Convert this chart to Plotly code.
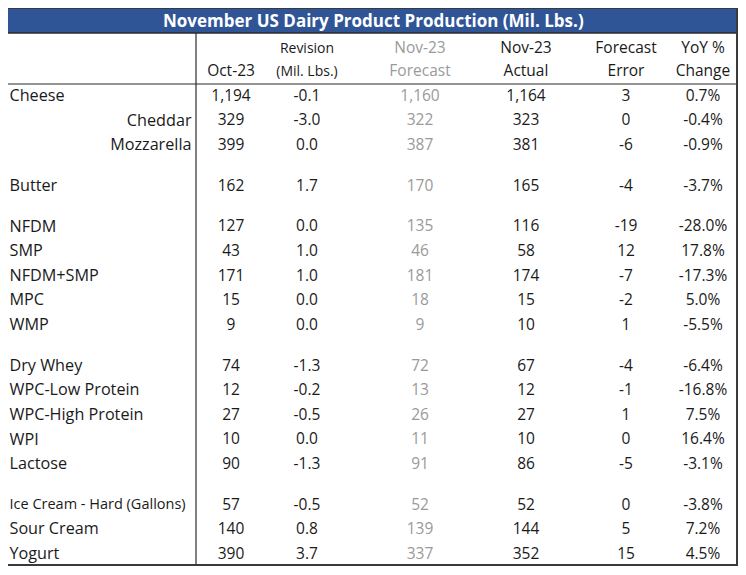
import plotly.graph_objects as go

# ---------------- data ----------------
title = "November US Dairy Product Production (Mil. Lbs.)"
products = ["Cheese", "Cheddar", "Mozzarella", "Butter", "NFDM", "SMP", "NFDM+SMP", "MPC", "WMP",
            "Dry Whey", "WPC-Low Protein", "WPC-High Protein", "WPI", "Lactose",
            "Ice Cream - Hard (Gallons)", "Sour Cream", "Yogurt"]
groups = [1, 1, 1, 2, 3, 3, 3, 3, 3, 4, 4, 4, 4, 4, 5, 5, 5]
indented = ["Cheddar", "Mozzarella"]
oct23 = [1194, 329, 399, 162, 127, 43, 171, 15, 9, 74, 12, 27, 10, 90, 57, 140, 390]
revision = [-0.1, -3.0, 0.0, 1.7, 0.0, 1.0, 1.0, 0.0, 0.0, -1.3, -0.2, -0.5, 0.0, -1.3, -0.5, 0.8, 3.7]
nov_forecast = [1160, 322, 387, 170, 135, 46, 181, 18, 9, 72, 13, 26, 11, 91, 52, 139, 337]
nov_actual = [1164, 323, 381, 165, 116, 58, 174, 15, 10, 67, 12, 27, 10, 86, 52, 144, 352]
forecast_error = [3, 0, -6, -4, -19, 12, -7, -2, 1, -4, -1, 1, 0, -5, 0, 5, 15]
yoy_change = [0.7, -0.4, -0.9, -3.7, -28.0, 17.8, -17.3, 5.0, -5.5, -6.4, -16.8, 7.5, 16.4, -3.1, -3.8, 7.2, 4.5]
header_top = ["", "Revision", "Nov-23", "Nov-23", "Forecast", "YoY %"]
header_bottom = ["Oct-23", "(Mil. Lbs.)", "Forecast", "Actual", "Error", "Change"]

# ---------------- layout constants ----------------
W, H = 746, 575
OFF = 8  # page body margin
FONT = "Open Sans, Carlito, Calibri, sans-serif"
DARK = "#1a1a1a"
GRAY = "#9a9a9a"
BLUE = "#2f5597"
col_x = [231, 307, 420, 526, 626, 703]
col_colors = [DARK, DARK, GRAY, DARK, DARK, DARK]
first_y, step, gap = 97, 24.6, 16.1
fs_label = 16.2
fs_num = 15.5
fs_head = 15.5

ys = []
y = first_y
for i, g in enumerate(groups):
    if i > 0:
        y += step + (gap if g != groups[i - 1] else 0)
    ys.append(y)

columns = [
    [f"{v:,}" for v in oct23],
    [f"{v:.1f}" for v in revision],
    [f"{v:,}" for v in nov_forecast],
    [f"{v:,}" for v in nov_actual],
    [f"{v}" for v in forecast_error],
    [f"{v:.1f}%" for v in yoy_change],
]

fig = go.Figure()

# labels
left_idx = [i for i, p in enumerate(products) if p not in indented]
right_idx = [i for i, p in enumerate(products) if p in indented]
fig.add_trace(go.Scatter(
    x=[9.5] * len(left_idx), y=[ys[i] for i in left_idx], mode="text",
    text=[products[i] for i in left_idx], textposition="middle right",
    textfont=dict(family=FONT, color=DARK,
                  size=[14.5 if "Gallons" in products[i] else fs_label for i in left_idx]),
    hoverinfo="skip", showlegend=False))
fig.add_trace(go.Scatter(
    x=[191.5] * len(right_idx), y=[ys[i] for i in right_idx], mode="text",
    text=[products[i] for i in right_idx], textposition="middle left",
    textfont=dict(family=FONT, color=DARK, size=fs_label),
    hoverinfo="skip", showlegend=False))

# numeric columns
for cx, col, colr in zip(col_x, columns, col_colors):
    fig.add_trace(go.Scatter(
        x=[cx] * len(col), y=ys, mode="text", text=col, textposition="middle center",
        textfont=dict(family=FONT, color=colr, size=fs_num),
        hoverinfo="skip", showlegend=False))

# headers
for cx, t, b, colr in zip(col_x, header_top, header_bottom, col_colors):
    fig.add_trace(go.Scatter(
        x=[cx, cx], y=[49, 72], mode="text", text=[t, b], textposition="middle center",
        textfont=dict(family=FONT, color=colr, size=fs_head if t != "Revision" else 14),
        hoverinfo="skip", showlegend=False))

shapes = [
    dict(type="rect", xref="x", yref="y", x0=6, x1=737, y0=8, y1=33,
         fillcolor=BLUE, line=dict(width=0), layer="below"),
    dict(type="line", xref="x", yref="y", x0=6, x1=737, y0=33, y1=33,
         line=dict(color="#2a2a2a", width=1.5)),
    dict(type="line", xref="x", yref="y", x0=6, x1=737, y0=84, y1=84,
         line=dict(color="#2a2a2a", width=1.2)),
    dict(type="line", xref="x", yref="y", x0=196, x1=196, y0=33, y1=565,
         line=dict(color="#2a2a2a", width=1.2)),
    dict(type="rect", xref="x", yref="y", x0=6, x1=737, y0=8, y1=565,
         line=dict(color="#3a3a3a", width=2), fillcolor="rgba(0,0,0,0)"),
]

fig.add_annotation(x=373, y=20.5, xref="x", yref="y", text=f"<b>{title}</b>",
                   showarrow=False, font=dict(family=FONT, color="white", size=17))

fig.update_layout(
    width=W - 2 * OFF, height=H - 2 * OFF, margin=dict(l=0, r=0, t=0, b=0),
    paper_bgcolor="white", plot_bgcolor="white", shapes=shapes,
    xaxis=dict(range=[OFF, W - OFF], visible=False, fixedrange=True),
    yaxis=dict(range=[H - OFF, OFF], visible=False, fixedrange=True),
)
fig.write_html("out.html")
